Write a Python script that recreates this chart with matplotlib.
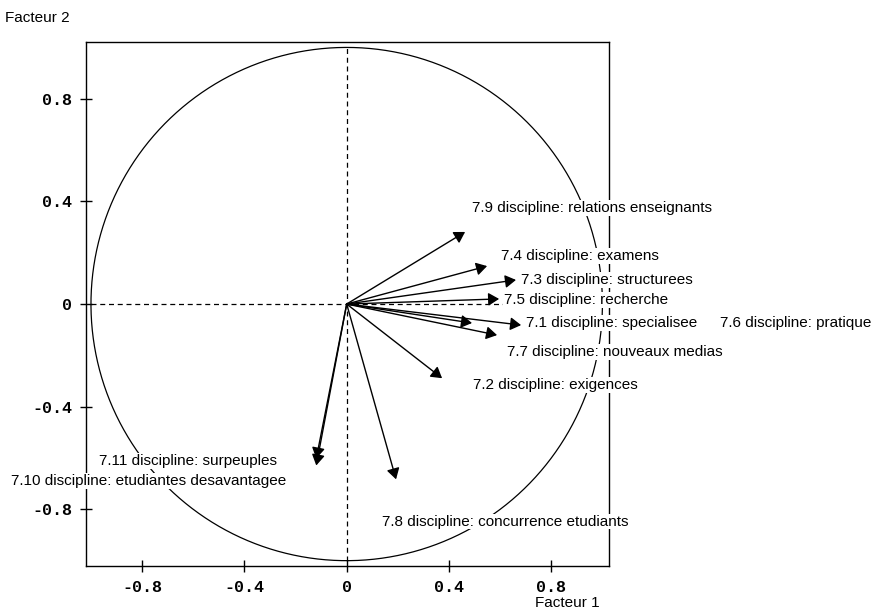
import matplotlib
matplotlib.use("Agg")
import matplotlib.pyplot as plt
import numpy as np

# variables (coordonnees sur les facteurs 1 et 2)
labels = [
    "7.1 discipline: specialisee",
    "7.2 discipline: exigences",
    "7.3 discipline: structurees",
    "7.4 discipline: examens",
    "7.5 discipline: recherche",
    "7.6 discipline: pratique",
    "7.7 discipline: nouveaux medias",
    "7.8 discipline: concurrence etudiants",
    "7.9 discipline: relations enseignants",
    "7.10 discipline: etudiantes desavantagee",
    "7.11 discipline: surpeuples",
]
f1 = [0.682, 0.373, 0.662, 0.549, 0.596, 0.490, 0.588, 0.193, 0.463, -0.119, -0.119]
f2 = [-0.082, -0.289, 0.094, 0.148, 0.020, -0.074, -0.121, -0.683, 0.281, -0.629, -0.602]

ticks = [-0.8, -0.4, 0, 0.4, 0.8]
tick_labels = ["-0.8", "-0.4", "0", "0.4", "0.8"]

# position des etiquettes (bord gauche, centre vertical)
label_pos = [
    (0.702, -0.074), (0.495, -0.315), (0.683, 0.093), (0.605, 0.187),
    (0.616, 0.016), (1.46, -0.074), (0.628, -0.187), (0.139, -0.848),
    (0.490, 0.374), (-1.312, -0.689), (-0.968, -0.611),
]

fig = plt.figure(figsize=(8.76, 6.13), dpi=100)
ax = fig.add_axes([0.098, 0.077, 0.597, 0.854])
ax.set_xlim(-1.02, 1.025)
ax.set_ylim(-1.02, 1.02)

t = np.linspace(0, 2 * np.pi, 400)
ax.plot(np.cos(t), np.sin(t), color="black", lw=0.9, zorder=1)
ax.plot([-1, 1], [0, 0], color="black", lw=0.9, ls=(0, (4, 3)), zorder=1)
ax.plot([0, 0], [-1, 1], color="black", lw=0.9, ls=(0, (4, 3)), zorder=1)

for x, y in zip(f1, f2):
    ax.annotate("", xy=(x, y), xytext=(0, 0),
                arrowprops=dict(arrowstyle="-|>,head_length=0.5,head_width=0.3",
                                color="black", lw=1,
                                mutation_scale=13, shrinkA=0, shrinkB=0),
                zorder=3)

for lab, (lx, ly) in zip(labels, label_pos):
    ax.text(lx, ly, lab, fontsize=11, family="Liberation Sans", ha="left", va="center",
            clip_on=False, zorder=5,
            bbox=dict(facecolor="white", edgecolor="none", pad=0.5))

ax.set_xticks(ticks)
ax.set_xticklabels(tick_labels)
ax.set_yticks(ticks)
ax.set_yticklabels(tick_labels)
ax.tick_params(direction="inout", length=8, width=1, pad=6)
for lab in ax.get_xticklabels() + ax.get_yticklabels():
    lab.set_family("Liberation Mono")
    lab.set_fontweight("bold")
    lab.set_fontsize(12)
for s in ax.spines.values():
    s.set_linewidth(1)

fig.text(5 / 876, 1 - 18 / 613, "Facteur 2", fontsize=11, family="Liberation Sans",
         ha="left", va="center")
fig.text(535 / 876, 1 - 603 / 613, "Facteur 1", fontsize=11, family="Liberation Sans",
         ha="left", va="center")

fig.savefig("out.png", dpi=100)
